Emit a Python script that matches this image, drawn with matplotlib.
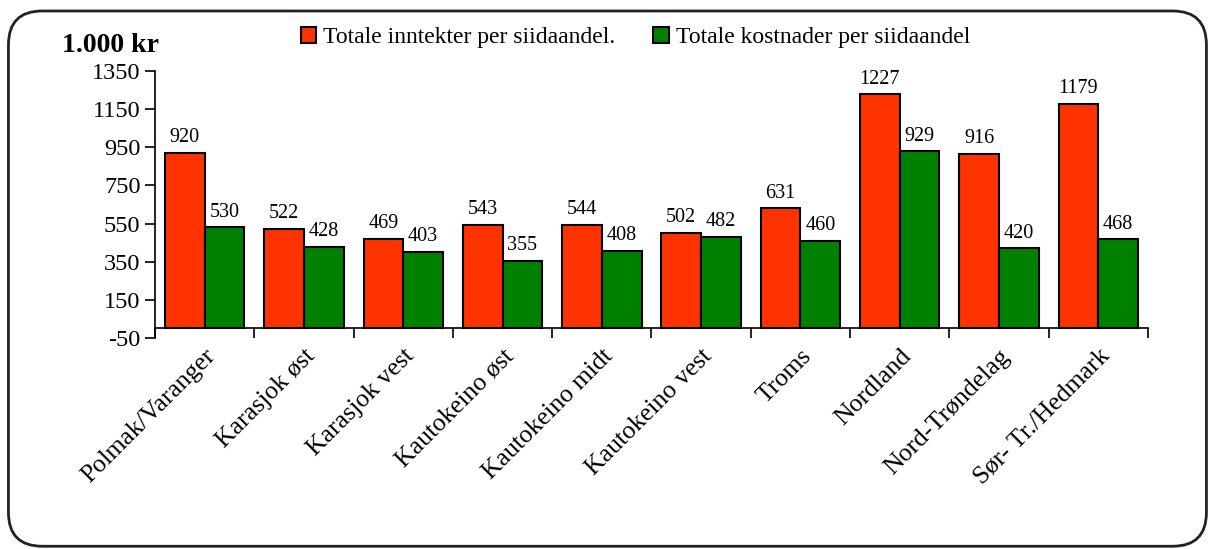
import matplotlib.pyplot as plt
import numpy as np
from matplotlib.patches import FancyBboxPatch

plt.rcParams['font.family'] = ['Liberation Serif', 'DejaVu Serif']
plt.rcParams['axes.unicode_minus'] = False

omrader = ['Polmak/Varanger', 'Karasjok øst', 'Karasjok vest', 'Kautokeino øst',
           'Kautokeino midt', 'Kautokeino vest', 'Troms', 'Nordland',
           'Nord-Trøndelag', 'Sør- Tr./Hedmark']
inntekter = [920, 522, 469, 543, 544, 502, 631, 1227, 916, 1179]
kostnader = [530, 428, 403, 355, 408, 482, 460, 929, 420, 468]

fig = plt.figure(figsize=(12.08, 5.49), dpi=100)
ax = fig.add_axes([0.1283, 0.3843, 0.8220, 0.4864])

# x-aksen ligger paa 0
ax.spines['bottom'].set_position(('data', 0))
ax.spines['top'].set_visible(False)
ax.spines['right'].set_visible(False)
ax.spines['left'].set_linewidth(1.2)
ax.spines['bottom'].set_linewidth(1.2)

x = np.arange(len(omrader))
w = 0.4
b1 = ax.bar(x - w/2, inntekter, w, color='#FF3300', edgecolor='black', linewidth=1.5,
            label='Totale inntekter per siidaandel.')
b2 = ax.bar(x + w/2, kostnader, w, color='#008000', edgecolor='black', linewidth=1.5,
            label='Totale kostnader per siidaandel')
ax.bar_label(b1, padding=4, fontsize=14.5)
ax.bar_label(b2, padding=4, fontsize=14.5)

ax.set_xlim(-0.5, len(omrader) - 0.5)
ax.set_ylim(-50, 1350)
ax.set_yticks(np.arange(-50, 1351, 200))
ax.tick_params(axis='y', labelsize=17.5, length=7, width=1.2)
ax.set_xticks(x)
ax.set_xticks(np.arange(-0.5, len(omrader), 1), minor=True)
ax.tick_params(axis='x', which='major', length=0, pad=12)
ax.tick_params(axis='x', which='minor', length=7, width=1.2)
ax.set_xticklabels(omrader, rotation=45, ha='right', rotation_mode='anchor', fontsize=18.5)

fig.text(0.051, 0.918, '1.000 kr', fontsize=20, fontweight='bold', va='center')
fig.legend(loc='center', bbox_to_anchor=(0.526, 0.932), ncol=2, frameon=False, fontsize=17,
           handlelength=0.65, handleheight=0.65, handletextpad=0.3, columnspacing=1.6)

frame = FancyBboxPatch((0.007, 0.005), 0.9917, 0.975, boxstyle='round,pad=0,rounding_size=0.028',
                       transform=fig.transFigure, fill=False, edgecolor='#222222', linewidth=2,
                       mutation_aspect=2.2)
fig.patches.append(frame)

fig.savefig('out.png', dpi=100)
